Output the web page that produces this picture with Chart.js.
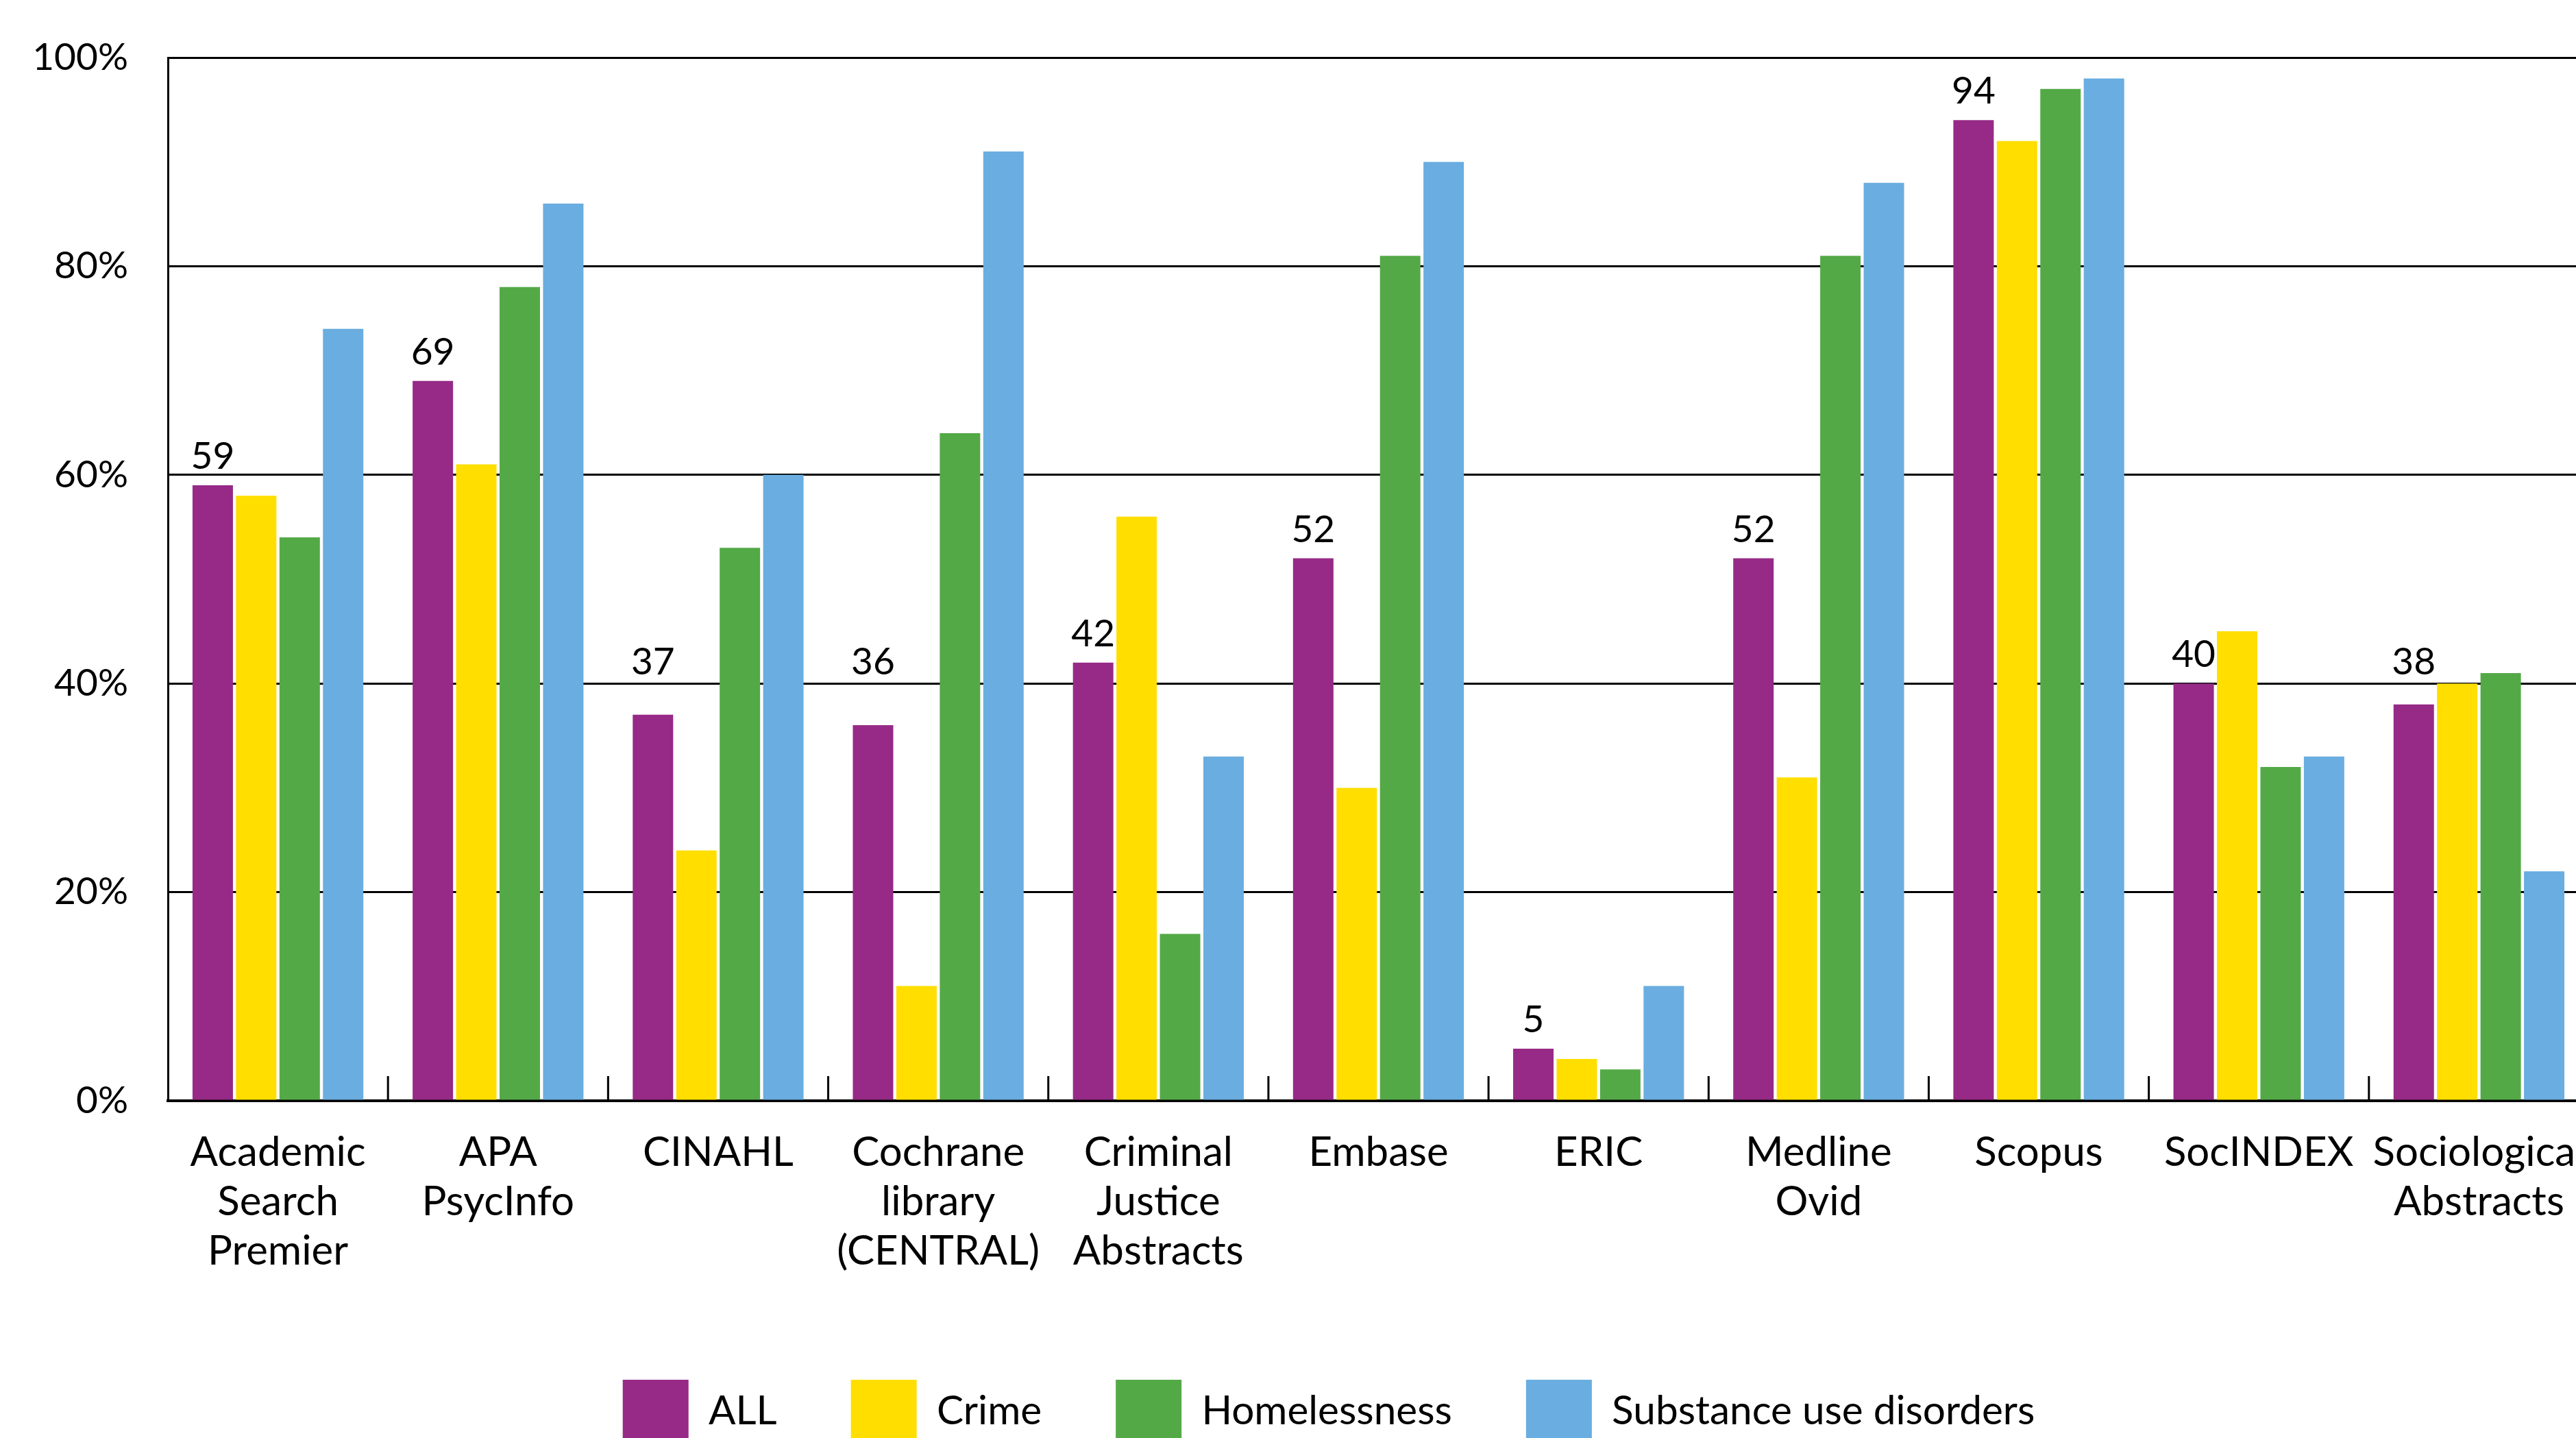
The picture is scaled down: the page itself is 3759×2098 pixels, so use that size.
<!DOCTYPE html>
<html>
<head>
<meta charset="utf-8">
<script src="https://cdn.jsdelivr.net/npm/chart.js@4/dist/chart.umd.min.js"></script>
<style>
  html, body { margin: 0; padding: 0; background: #fff; overflow: hidden; width: 3759px; height: 2098px; }
  #wrap { position: absolute; left: 0; top: 0; width: 3900px; height: 2120px; }
</style>
</head>
<body>
<div id="wrap"><canvas id="c" width="3900" height="2120"></canvas></div>
<script>
const categories = [
  ['Academic', 'Search', 'Premier'],
  ['APA', 'PsycInfo'],
  ['CINAHL'],
  ['Cochrane', 'library', '(CENTRAL)'],
  ['Criminal', 'Justice', 'Abstracts'],
  ['Embase'],
  ['ERIC'],
  ['Medline', 'Ovid'],
  ['Scopus'],
  ['SocINDEX'],
  ['Sociological', 'Abstracts']
];
const seriesNames = ['ALL', 'Crime', 'Homelessness', 'Substance use disorders'];
const allValues          = [59, 69, 37, 36, 42, 52, 5, 52, 94, 40, 38];
const crimeValues        = [58, 61, 24, 11, 56, 30, 4, 31, 92, 45, 40];
const homelessnessValues = [54, 78, 53, 64, 16, 81, 3, 81, 97, 32, 41];
const substanceValues    = [74, 86, 60, 91, 33, 90, 11, 88, 98, 33, 22];
const yTicks = [0, 20, 40, 60, 80, 100];

const colors = ['#962a86', '#ffde00', '#54a947', '#6aade0'];
const FONT = 'Lato, "Open Sans", sans-serif';

const valueLabels = {
  id: 'valueLabels',
  afterDatasetsDraw(chart, args, opts) {
    const ctx = chart.ctx;
    const y = chart.scales.y;
    const meta = chart.getDatasetMeta(0);
    const vals = chart.data.datasets[0].data;
    ctx.save();
    ctx.font = '55px ' + FONT;
    ctx.fillStyle = '#000';
    ctx.textAlign = 'center';
    ctx.textBaseline = 'alphabetic';
    meta.data.forEach((bar, i) => {
      const v = vals[i];
      const anchor = (v > opts.liftFrom && v < opts.liftTo) ? opts.liftTo : v;
      ctx.fillText(String(v), bar.x, y.getPixelForValue(anchor) - 24);
    });
    ctx.restore();
  }
};

const upTicks = {
  id: 'upTicks',
  afterDatasetsDraw(chart) {
    const x = chart.scales.x;
    const bottom = chart.chartArea.bottom;
    const ctx = chart.ctx;
    ctx.save();
    ctx.strokeStyle = '#000';
    ctx.lineWidth = 3;
    for (let i = 1; i < categories.length; i++) {
      const px = (x.getPixelForTick(i - 1) + x.getPixelForTick(i)) / 2;
      ctx.beginPath();
      ctx.moveTo(px, bottom);
      ctx.lineTo(px, bottom - 36);
      ctx.stroke();
    }
    ctx.restore();
  }
};

const legendShift = {
  id: 'legendShift',
  afterLayout(chart) {
    if (chart.legend) {
      chart.legend.left += 50;
      chart.legend.right += 50;
    }
  }
};

const data = {
  labels: categories,
  datasets: [allValues, crimeValues, homelessnessValues, substanceValues].map((vals, k) => ({
    label: seriesNames[k],
    data: vals,
    backgroundColor: colors[k],
    borderWidth: 0,
    categoryPercentage: 0.79,
    barPercentage: 0.93
  }))
};

new Chart(document.getElementById('c'), {
  type: 'bar',
  data,
  plugins: [valueLabels, upTicks, legendShift],
  options: {
    responsive: false,
    animation: false,
    devicePixelRatio: 1,
    layout: { padding: { left: 0, right: 122, top: 84, bottom: 5 } },
    plugins: {
      tooltip: { enabled: false },
      valueLabels: { liftFrom: 30, liftTo: 39.3 },
      legend: {
        position: 'bottom',
        labels: {
          boxWidth: 96,
          boxHeight: 92,
          padding: 108,
          color: '#000',
          font: { family: FONT, size: 58.5 }
        }
      }
    },
    scales: {
      x: {
        grid: { display: false, drawTicks: false },
        border: { display: true, color: '#000', width: 4 },
        ticks: {
          color: '#000',
          font: { family: FONT, size: 60, lineHeight: 1.2 },
          maxRotation: 0,
          minRotation: 0,
          autoSkip: false,
          padding: 40
        },
        afterFit(scale) { scale.height = 299; }
      },
      y: {
        min: 0,
        max: 100,
        afterBuildTicks(scale) { scale.ticks = yTicks.map(v => ({ value: v })); },
        grid: { color: '#000', lineWidth: 3, drawTicks: false },
        border: { display: true, color: '#000', width: 3 },
        ticks: {
          color: '#000',
          font: { family: FONT, size: 55 },
          padding: 58,
          callback: v => v + '%'
        },
        afterFit(scale) {
          scale.width = 245;
          scale.paddingTop = 0;
          scale.paddingBottom = 0;
        }
      }
    }
  }
});
</script>
</body>
</html>
